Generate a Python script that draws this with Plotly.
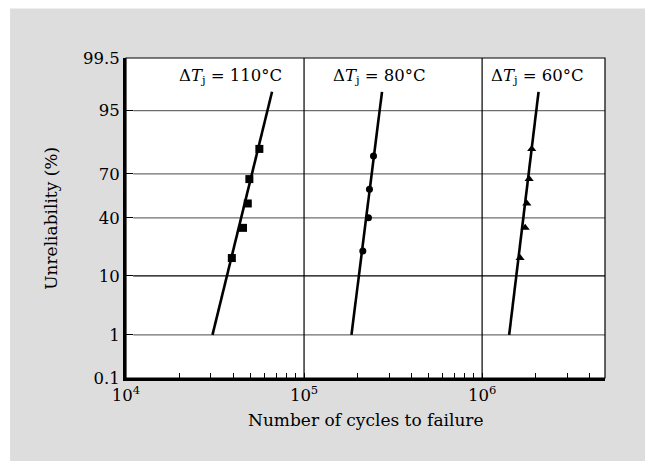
import math
import plotly.graph_objects as go
from statistics import NormalDist

# ---------------- data ----------------
ytick_pct = [0.1, 1, 10, 40, 70, 95, 99.5]
ytick_text = ["0.1", "1", "10", "40", "70", "95", "99.5"]
xtick_vals = [1e4, 1e5, 1e6]
xtick_text = ["10<sup>4</sup>", "10<sup>5</sup>", "10<sup>6</sup>"]
x_max = 4.9e6

cycles_110 = [39300, 45400, 48300, 49300, 56100]
unrel_110 = [16.7, 33.3, 50.0, 66.7, 83.3]
cycles_80 = [213800, 230000, 233000, 245500]
unrel_80 = [20.0, 40.0, 60.0, 80.0]
cycles_60 = [1634000, 1745000, 1783000, 1837000, 1900000]
unrel_60 = [16.7, 33.3, 50.0, 66.7, 83.3]

fit_110_x = [30600, 66100]
fit_80_x = [184600, 274000]
fit_60_x = [1419000, 2075000]
fit_unrel = [1.0, 97.6]

labels = ["Δ<i>T</i><sub>j</sub> = 110°C", "Δ<i>T</i><sub>j</sub> = 80°C", "Δ<i>T</i><sub>j</sub> = 60°C"]
label_xpos = [0.219, 0.530, 0.860]

grid_pct = [1, 10, 40, 70, 95]
grid_colors = ["#6e6e6e", "#000000", "#6e6e6e", "#6e6e6e", "#6e6e6e"]
vlines_x = [1e5, 1e6]

# ---------------- helpers ----------------
nd = NormalDist()
def q(p_list):
    return [nd.inv_cdf(p / 100.0) for p in p_list]

FONT = "DejaVu Serif"
TS = 16.5

fig = go.Figure()

for fx in [fit_110_x, fit_80_x, fit_60_x]:
    fig.add_trace(go.Scatter(x=fx, y=q(fit_unrel), mode="lines",
                             line=dict(color="black", width=2.6), showlegend=False,
                             hoverinfo="skip"))

fig.add_trace(go.Scatter(x=cycles_110, y=q(unrel_110), mode="markers",
                         marker=dict(symbol="square", size=8, color="black"), showlegend=False))
fig.add_trace(go.Scatter(x=cycles_80, y=q(unrel_80), mode="markers",
                         marker=dict(symbol="circle", size=7, color="black"), showlegend=False))
fig.add_trace(go.Scatter(x=cycles_60, y=q(unrel_60), mode="markers",
                         marker=dict(symbol="triangle-up", size=8, color="black"), showlegend=False))

shapes = []
shapes.append(dict(type="rect", xref="paper", yref="paper", x0=-0.242, x1=1.2, y0=-0.3, y1=1.155,
                   fillcolor="#dddddd", line=dict(width=0), layer="below"))
shapes.append(dict(type="rect", xref="x domain", yref="y domain", x0=0, x1=1, y0=0, y1=1,
                   fillcolor="white", line=dict(width=0), layer="below"))
for p, c in zip(grid_pct, grid_colors):
    yy = q([p])[0]
    shapes.append(dict(type="line", xref="x domain", yref="y", x0=0.015, x1=1, y0=yy, y1=yy,
                       line=dict(color=c, width=1.2), layer="below"))
for vx in vlines_x:
    shapes.append(dict(type="line", xref="x", yref="y domain", x0=vx, x1=vx, y0=0, y1=1,
                       line=dict(color="black", width=1.2), layer="below"))
shapes.append(dict(type="rect", xref="x domain", yref="y domain", x0=0, x1=1, y0=0, y1=1,
                   line=dict(color="black", width=1.2), fillcolor="rgba(0,0,0,0)", layer="above"))

annotations = []
for t, xp in zip(labels, label_xpos):
    annotations.append(dict(text=t, xref="x domain", yref="y domain", x=xp, y=0.942,
                            xanchor="center", yanchor="middle", showarrow=False,
                            font=dict(family=FONT, size=TS, color="black")))
annotations.append(dict(text="Number of cycles to failure", xref="paper", yref="paper",
                        x=0.5, y=-0.13, xanchor="center", yanchor="middle", showarrow=False,
                        font=dict(family=FONT, size=17, color="black")))
annotations.append(dict(text="Unreliability (%)", xref="paper", yref="paper",
                        x=-0.157, y=0.5, xanchor="center", yanchor="middle", showarrow=False,
                        textangle=-90, font=dict(family=FONT, size=17, color="black")))

ymin = q([ytick_pct[0]])[0]
ymax = q([ytick_pct[-1]])[0]

fig.update_layout(
    width=645, height=461,
    margin=dict(l=126, r=40, t=58, b=83),
    paper_bgcolor="white", plot_bgcolor="white",
    shapes=shapes, annotations=annotations,
    font=dict(family=FONT, size=TS, color="black"),
    xaxis=dict(type="log", range=[4, math.log10(x_max)],
               tickvals=xtick_vals, ticktext=xtick_text,
               ticks="inside", ticklen=5, tickcolor="black", tickwidth=1.2,
               showgrid=False, zeroline=False,
               showline=True, linecolor="black", linewidth=3,
               minor=dict(ticks="inside", ticklen=5, tickcolor="black", tickwidth=1.2,
                          dtick="D1", showgrid=False),
               tickfont=dict(family=FONT, size=TS, color="black")),
    yaxis=dict(range=[ymin, ymax], tickvals=q(ytick_pct), ticktext=ytick_text,
               ticks="inside", ticklen=7, tickcolor="black", tickwidth=1.2,
               showgrid=False, zeroline=False,
               showline=True, linecolor="black", linewidth=3,
               tickfont=dict(family=FONT, size=TS, color="black")),
)

fig.write_html("out.html")
